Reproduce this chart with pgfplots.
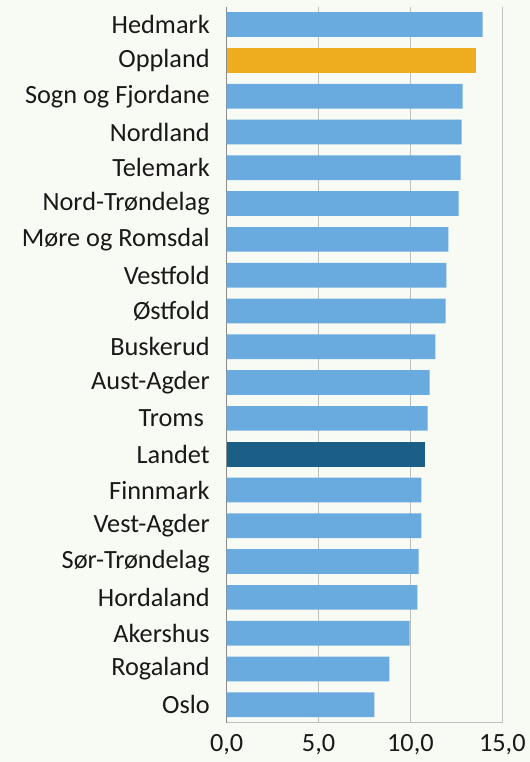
\documentclass[border=0pt]{standalone}
\usepackage{fontspec}
\setmainfont{Carlito}
\usepackage{pgfplots}
\pgfplotsset{compat=1.18}
\definecolor{bgcol}{HTML}{F8FAF4}
\definecolor{barblue}{HTML}{6AABDF}
\definecolor{barorange}{HTML}{EEAC1F}
\definecolor{bardark}{HTML}{1B5F87}
\definecolor{gridgray}{HTML}{BFBFBF}
\definecolor{axisgray}{HTML}{8C8C8C}

\begin{document}
\fontsize{26.3bp}{31bp}\selectfont
\begin{tikzpicture}
\fill[bgcol] (-226.7bp,-39.3bp) rectangle (303.3bp,722.7bp);
\begin{axis}[
    at={(0,0)}, anchor=south west,
    scale only axis,
    width=275.6bp, height=716bp,
    xbar,
    bar width=0.69,
    xmin=0, xmax=15,
    ymin=-0.5, ymax=19.5,
    xtick={0,5,10,15},
    ytick={0,...,19},
    yticklabels={Oslo,Rogaland,Akershus,Hordaland,Sør-Trøndelag,Vest-Agder,Finnmark,Landet,Troms\kern0.226em,Aust-Agder,Buskerud,Østfold,Vestfold,Møre og Romsdal,Nord-Trøndelag,Telemark,Nordland,Sogn og Fjordane,Oppland,Hedmark},
    axis x line*=bottom,
    axis y line*=left,
    axis line style={draw=axisgray, line width=0.9bp},
    x axis line style={draw=gridgray},
    xmajorgrids,
    grid style={draw=gridgray, line width=0.9bp},
    major tick length=0pt,
    tick style={draw=none},
    ticklabel style={font=\fontsize{26.3bp}{31bp}\selectfont, text=black!90},
    yticklabel style={xshift=-8bp},
    xticklabel style={yshift=-11bp, inner sep=1bp},
    /pgf/number format/.cd, fixed, fixed zerofill, precision=1, use comma, assume math mode=true,
]
\addplot[fill=barblue, draw=none, bar shift=0pt] coordinates {
    (8.04,0) (8.86,1) (9.95,2) (10.38,3) (10.44,4) (10.6,5) (10.6,6)
    (10.93,8) (11.04,9) (11.36,10) (11.91,11) (11.96,12) (12.07,13)
    (12.62,14) (12.73,15) (12.78,16) (12.84,17) (13.93,19)
};
\addplot[fill=bardark, draw=none, bar shift=0pt] coordinates {(10.82,7)};
\addplot[fill=barorange, draw=none, bar shift=0pt] coordinates {(13.55,18)};
\end{axis}
\pgfresetboundingbox
\path (-226.7bp,-39.3bp) rectangle (303.3bp,722.7bp);
\end{tikzpicture}
\end{document}
